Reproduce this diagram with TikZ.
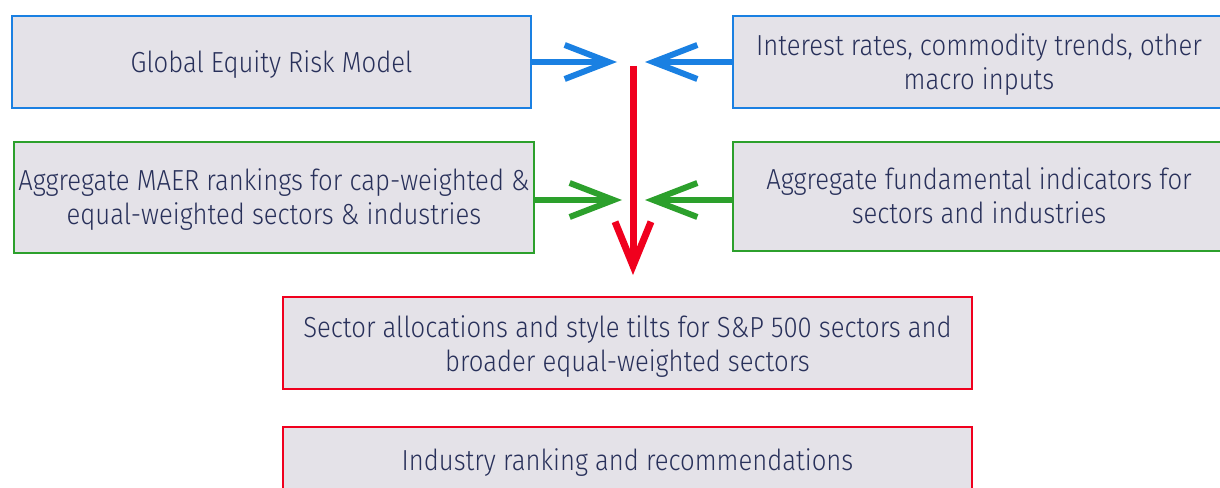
\documentclass[tikz,border=0pt]{standalone}
\usepackage{fontspec}
\setmainfont{Fira Sans Light}[FakeStretch=0.885]
\usetikzlibrary{arrows.meta}
\definecolor{boxfill}{RGB}{228,226,232}
\definecolor{inkblue}{RGB}{26,128,226}
\definecolor{inkgreen}{RGB}{44,160,44}
\definecolor{inkred}{RGB}{240,0,30}
\definecolor{txt}{RGB}{40,48,90}
% centred lines of text with extra room on top (pushes the lines down in their box)
\newcommand\droptext[2][0pt]{\raisebox{0pt}[\dimexpr\height+#1\relax]{\begin{tabular}{@{}c@{}}#2\end{tabular}}}
\tikzset{
  card/.style={draw, line width=2pt, fill=boxfill, text=txt,
    font=\fontsize{29}{34}\selectfont, inner sep=0pt},
  feed/.style={line width=6pt, -{Straight Barb[length=44pt,width=34pt]}},
}
\begin{document}
\begin{tikzpicture}[x=1pt,y=-1pt]
\useasboundingbox (0,0) rectangle (1220,487);
% input boxes
\node[card, draw=inkblue, minimum width=519pt, minimum height=92pt] (risk) at (271.5,62)
  {\droptext[8.4pt]{Global Equity Risk Model}};
\node[card, draw=inkblue, minimum width=492pt, minimum height=92pt] (macro) at (979,62)
  {\droptext[8.4pt]{Interest rates, commodity trends, other\\macro inputs}};
\node[card, draw=inkgreen, minimum width=520pt, minimum height=111pt] (maer) at (274,197.5)
  {\droptext[6pt]{Aggregate MAER rankings for cap-weighted \&\\equal-weighted sectors \& industries}};
\node[card, draw=inkgreen, minimum width=492pt, minimum height=109pt] (fund) at (979,196.5)
  {\droptext[7pt]{Aggregate fundamental indicators for\\sectors and industries}};
% output boxes
\node[card, draw=inkred, minimum width=689pt, minimum height=92pt] (alloc) at (627.5,343)
  {\droptext[8.4pt]{Sector allocations and style tilts for S\&P 500 sectors and\\broader equal-weighted sectors}};
\node[card, draw=inkred, minimum width=689pt, minimum height=92pt] (rank) at (627.5,473) {};
\node[text=txt, font=\fontsize{29}{34}\selectfont, inner sep=0pt] (ranktxt) at (627.5,463.2)
  {\droptext{Industry ranking and recommendations}};
% meeting points
\coordinate (tipA) at (617,62);
\coordinate (tipB) at (645,62);
\coordinate (tipC) at (622,200);
\coordinate (tipD) at (645,200);
\coordinate (flowtop) at (633,66);
\coordinate (flowend) at (633,275);
% connectors
\draw[feed, draw=inkblue] (risk.east) -- (tipA);
\draw[feed, draw=inkblue] (macro.west) -- (tipB);
\draw[feed, draw=inkgreen] (maer.east |- tipC) -- (tipC);
\draw[feed, draw=inkgreen] (fund.west |- tipD) -- (tipD);
\draw[line width=7pt, draw=inkred, -{Straight Barb[length=44pt,width=36pt]}] (flowtop) -- (flowend);
\end{tikzpicture}
\end{document}
